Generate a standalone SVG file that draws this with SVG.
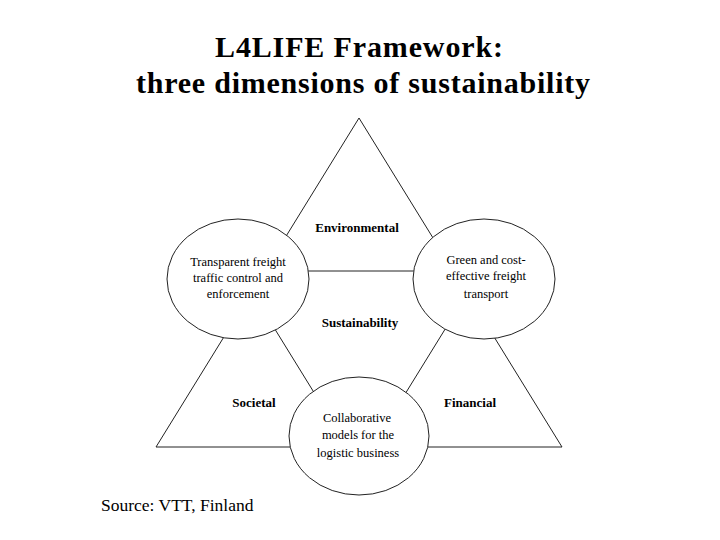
<svg xmlns="http://www.w3.org/2000/svg" width="720" height="540" viewBox="0 0 720 540">
<style>
.title{font-family:"Liberation Serif","Times New Roman",serif;font-weight:bold;font-size:30px;fill:#000;text-anchor:middle}
.lbl{font-family:"Liberation Serif","Times New Roman",serif;font-weight:bold;font-size:13px;fill:#000;text-anchor:middle}
.txt{font-family:"Liberation Serif","Times New Roman",serif;font-size:12.5px;fill:#000;text-anchor:middle}
.src{font-family:"Liberation Serif","Times New Roman",serif;font-size:17.5px;fill:#000}
.ln{fill:none;stroke:#222;stroke-width:1}
.circ{fill:#fff;stroke:#222;stroke-width:1}
</style>
<rect width="720" height="540" fill="#fff"/>
<text class="title" x="359" y="57" textLength="288" lengthAdjust="spacing">L4LIFE Framework:</text>
<text class="title" x="363" y="93" textLength="454" lengthAdjust="spacing">three dimensions of sustainability</text>
<g id="connectors">
<polygon class="ln" points="359,118 562,447 156,447"/>
<polygon class="ln" points="239,271 481,271 360,467"/>
</g>
<g id="environmental"><text class="lbl" x="357" y="232">Environmental</text></g>
<g id="sustainability"><text class="lbl" x="360" y="327">Sustainability</text></g>
<g id="societal"><text class="lbl" x="254" y="407">Societal</text></g>
<g id="financial"><text class="lbl" x="470" y="407">Financial</text></g>
<g id="node-left">
<ellipse class="circ" cx="238" cy="279" rx="71" ry="60"/>
<text class="txt" x="238" y="266">Transparent freight</text>
<text class="txt" x="238" y="282">traffic control and</text>
<text class="txt" x="238" y="298">enforcement</text>
</g>
<g id="node-right">
<ellipse class="circ" cx="484" cy="279" rx="71" ry="60"/>
<text class="txt" x="486" y="264">Green and cost-</text>
<text class="txt" x="486" y="280">effective freight</text>
<text class="txt" x="486" y="298">transport</text>
</g>
<g id="node-bottom">
<ellipse class="circ" cx="359" cy="436" rx="70" ry="59"/>
<text class="txt" x="357" y="422">Collaborative</text>
<text class="txt" x="358" y="439">models for the</text>
<text class="txt" x="358" y="457">logistic business</text>
</g>
<text class="src" x="101" y="511">Source: VTT, Finland</text>
</svg>
